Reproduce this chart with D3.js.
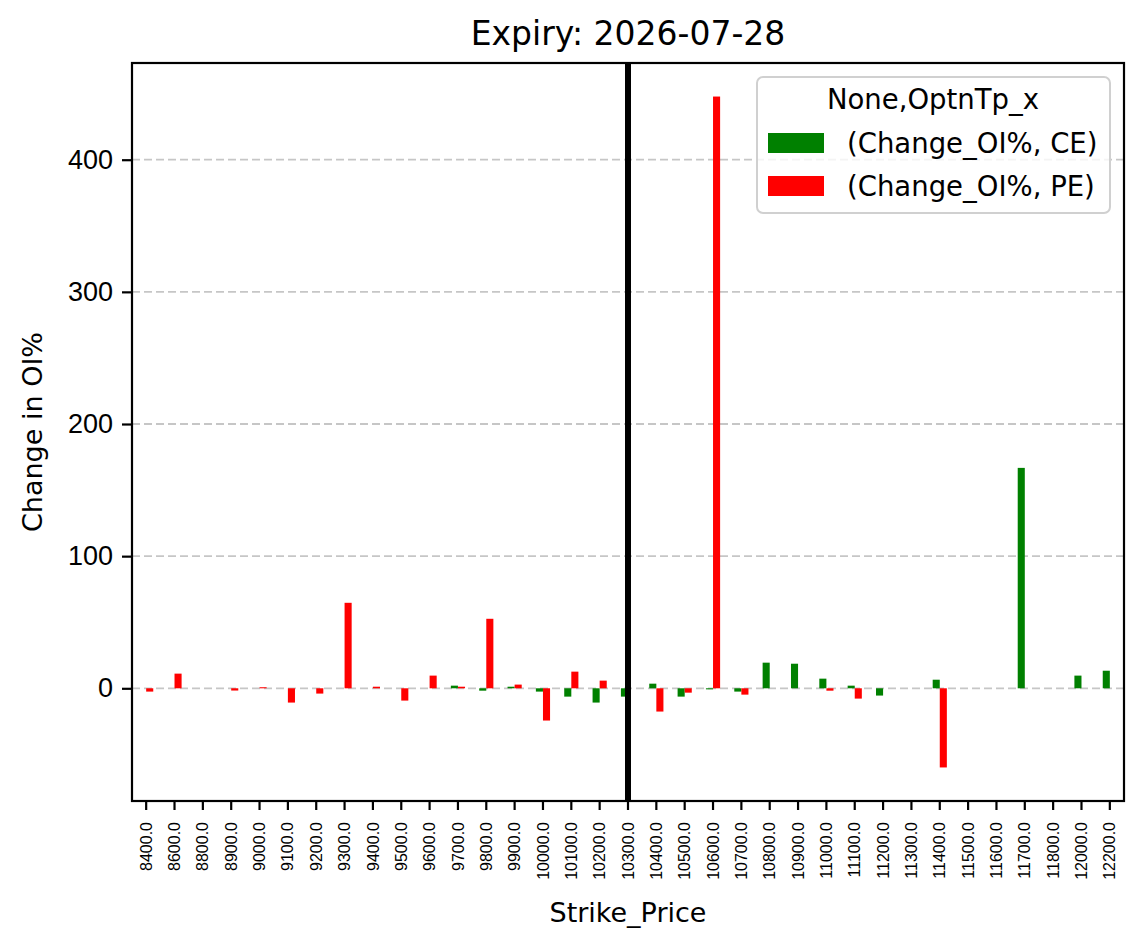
<!DOCTYPE html>
<html>
<head>
<meta charset="utf-8">
<script src="https://cdn.jsdelivr.net/npm/d3@7"></script>
<style>
    body { margin: 0; background: #fff; }
    svg { display: block; font-family: "DejaVu Sans", sans-serif; }
</style>
</head>
<body>
<div id="chart"></div>
<script>
// Strike prices (categories)
var strikes = ['8400.0', '8600.0', '8800.0', '8900.0', '9000.0', '9100.0', '9200.0', '9300.0',
    '9400.0', '9500.0', '9600.0', '9700.0', '9800.0', '9900.0', '10000.0', '10100.0', '10200.0',
    '10300.0', '10400.0', '10500.0', '10600.0', '10700.0', '10800.0', '10900.0', '11000.0',
    '11100.0', '11200.0', '11300.0', '11400.0', '11500.0', '11600.0', '11700.0', '11800.0',
    '12000.0', '12200.0'];

// Change in OI% for calls (null = no data)
var ceValues = [null, null, null, null, null, null, null, null,
    null, null, null, 2, -1.8, 1.2, -2.5, -6.3, -10.8,
    -6.3, 3.5, -6.3, -0.8, -2.5, 19.4, 18.6, 7.3,
    2, -5.5, null, 6.5, null, null, 166.8, null,
    9.6, 13.3];

// Change in OI% for puts
var peValues = [-2.5, 11.1, null, -1.7, 0.8, -10.8, -4, 64.7,
    1.2, -9.3, 9.6, 1.2, 52.6, 2.8, -24.4, 12.6, 5.8,
    null, -17.6, -3.3, 447.8, -4.8, null, null, -1.8,
    -7.8, null, null, -59.9, null, null, null, null,
    null, null];

var yTicks = [0, 100, 200, 300, 400];
var spotStrike = '10300.0';
var chartTitle = 'Expiry: 2026-07-28';
var legendTitle = 'None,OptnTp_x';
var seriesNames = ['(Change_OI%, CE)', '(Change_OI%, PE)'];
var seriesColors = ['#008000', '#ff0000'];

var svgWidth = 1143;
var svgHeight = 950;

var margin = {
    top: 63,
    bottom: 149,
    right: 19,
    left: 132
};

var chartWidth = svgWidth - margin.left - margin.right;
var chartHeight = svgHeight - margin.top - margin.bottom;

var svg = d3.select('#chart')
    .append('svg')
    .attr('width', svgWidth)
    .attr('height', svgHeight);

var chartGroup = svg.append('g')
    .attr('transform', `translate(${margin.left}, ${margin.top})`);

// Scales
var xScale = d3.scaleBand()
    .domain(strikes)
    .range([0, chartWidth]);

var allValues = ceValues.concat(peValues).filter(v => v !== null);
var yMin = Math.min(0, d3.min(allValues));
var yMax = d3.max(allValues);
var pad = (yMax - yMin) * 0.05;

var yScale = d3.scaleLinear()
    .domain([yMin - pad, yMax + pad])
    .range([chartHeight, 0]);

// Grid lines
chartGroup.append('g')
    .selectAll('line')
    .data(yTicks)
    .enter()
    .append('line')
    .attr('x1', 0)
    .attr('x2', chartWidth)
    .attr('y1', d => yScale(d))
    .attr('y2', d => yScale(d))
    .attr('stroke', '#c6c6c6')
    .attr('stroke-width', 1.8)
    .attr('stroke-dasharray', '8,4');

// Bars
var barWidth = xScale.bandwidth() * 0.25;
var seriesData = [ceValues, peValues];

seriesData.forEach(function (values, s) {
    var rows = strikes.map((k, i) => ({ strike: k, value: values[i] }))
        .filter(d => d.value !== null);

    chartGroup.append('g')
        .selectAll('rect')
        .data(rows)
        .enter()
        .append('rect')
        .attr('x', d => xScale(d.strike) + xScale.bandwidth() / 2 - barWidth + s * barWidth)
        .attr('y', d => yScale(Math.max(0, d.value)))
        .attr('width', barWidth)
        .attr('height', d => Math.abs(yScale(d.value) - yScale(0)))
        .attr('fill', seriesColors[s]);
});

// Spot strike marker
var spotX = xScale(spotStrike) + xScale.bandwidth() / 2;
chartGroup.append('line')
    .attr('x1', spotX)
    .attr('x2', spotX)
    .attr('y1', 0)
    .attr('y2', chartHeight)
    .attr('stroke', '#000')
    .attr('stroke-width', 6);

// Axes
var xAxis = d3.axisBottom(xScale).tickSizeOuter(0).tickSize(9);
var yAxis = d3.axisLeft(yScale).tickValues(yTicks).tickSizeOuter(0).tickSize(10).tickPadding(9);

var xAxisGroup = chartGroup.append('g')
    .attr('transform', `translate(0, ${chartHeight})`)
    .call(xAxis);

xAxisGroup.selectAll('text')
    .attr('font-size', 16)
    .attr('fill', '#000')
    .attr('transform', 'rotate(-90)')
    .attr('text-anchor', 'end')
    .attr('x', -21)
    .attr('y', 0)
    .attr('dy', '0.35em');

var yAxisGroup = chartGroup.append('g')
    .call(yAxis);

yAxisGroup.selectAll('text')
    .attr('font-size', 27)
    .attr('fill', '#000');

[xAxisGroup, yAxisGroup].forEach(function (g) {
    g.select('.domain').remove();
    g.selectAll('.tick line').attr('stroke', '#000').attr('stroke-width', 2.2);
});

// Frame
chartGroup.append('rect')
    .attr('x', 0)
    .attr('y', 0)
    .attr('width', chartWidth)
    .attr('height', chartHeight)
    .attr('fill', 'none')
    .attr('stroke', '#000')
    .attr('stroke-width', 2.2);

// Title and axis labels
svg.append('text')
    .attr('x', margin.left + chartWidth / 2)
    .attr('y', 45)
    .attr('text-anchor', 'middle')
    .attr('font-size', 33)
    .text(chartTitle);

svg.append('text')
    .attr('x', margin.left + chartWidth / 2)
    .attr('y', 922)
    .attr('text-anchor', 'middle')
    .attr('font-size', 27)
    .text('Strike_Price');

svg.append('text')
    .attr('transform', 'rotate(-90)')
    .attr('x', -(margin.top + chartHeight / 2))
    .attr('y', 42)
    .attr('text-anchor', 'middle')
    .attr('font-size', 27)
    .text('Change in OI%');

// Legend
var legend = svg.append('g')
    .attr('transform', 'translate(757, 77)');

legend.append('rect')
    .attr('width', 353)
    .attr('height', 136)
    .attr('rx', 6)
    .attr('fill', '#fff')
    .attr('fill-opacity', 0.8)
    .attr('stroke', '#d0d0d0')
    .attr('stroke-width', 2);

legend.append('text')
    .attr('x', 176)
    .attr('y', 32)
    .attr('text-anchor', 'middle')
    .attr('font-size', 27.5)
    .text(legendTitle);

seriesNames.forEach(function (name, i) {
    legend.append('rect')
        .attr('x', 11)
        .attr('y', 56 + i * 43)
        .attr('width', 56)
        .attr('height', 20)
        .attr('fill', seriesColors[i]);

    legend.append('text')
        .attr('x', 90)
        .attr('y', 76 + i * 43)
        .attr('font-size', 27.5)
        .text(name);
});
</script>
</body>
</html>
